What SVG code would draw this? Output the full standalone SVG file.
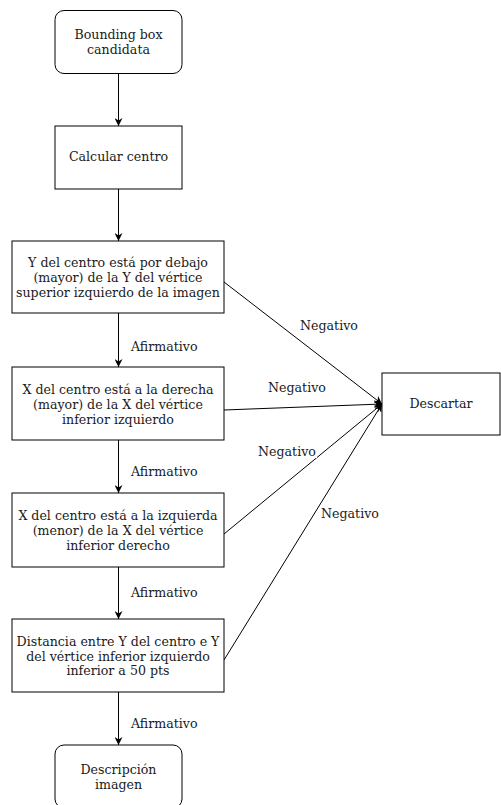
<svg xmlns="http://www.w3.org/2000/svg" width="501" height="805" viewBox="0 0 501 805">
<style>
.n{fill:#fff;stroke:#000;stroke-width:1}
.t{font-family:"DejaVu Serif",serif;font-size:12.6px;fill:#1a1a1a;text-anchor:middle}
.l{font-family:"DejaVu Serif",serif;font-size:12.6px;fill:#1a1a1a}
.c{fill:none;stroke:#000;stroke-width:1}
</style>
<defs>
<marker id="a" viewBox="0 0 10 10" refX="10" refY="5" markerWidth="8" markerHeight="8" markerUnits="userSpaceOnUse" orient="auto">
<path d="M0,0 L10,5 L0,10 L3,5 Z" fill="#000"/>
</marker>
</defs>
<rect width="501" height="805" fill="#fff"/>
<g id="connectors">
<line class="c" x1="118.5" y1="73" x2="118.5" y2="126" marker-end="url(#a)"/>
<line class="c" x1="118.5" y1="189" x2="118.5" y2="241" marker-end="url(#a)"/>
<line class="c" x1="118.5" y1="313" x2="118.5" y2="367" marker-end="url(#a)"/>
<line class="c" x1="118.5" y1="440" x2="118.5" y2="493" marker-end="url(#a)"/>
<line class="c" x1="118.5" y1="567" x2="118.5" y2="619" marker-end="url(#a)"/>
<line class="c" x1="118.5" y1="692" x2="118.5" y2="745" marker-end="url(#a)"/>
<line class="c" x1="224" y1="282" x2="382" y2="404" marker-end="url(#a)"/>
<line class="c" x1="224" y1="410" x2="382" y2="404" marker-end="url(#a)"/>
<line class="c" x1="224" y1="534" x2="382" y2="404" marker-end="url(#a)"/>
<line class="c" x1="224" y1="660" x2="382" y2="404" marker-end="url(#a)"/>
<text class="l" x="131" y="351">Afirmativo</text>
<text class="l" x="131" y="476">Afirmativo</text>
<text class="l" x="131" y="597">Afirmativo</text>
<text class="l" x="131" y="728">Afirmativo</text>
<text class="t" x="329" y="330">Negativo</text>
<text class="t" x="297" y="392">Negativo</text>
<rect x="256" y="444" width="61" height="14" fill="#fff"/>
<text class="t" x="287" y="456">Negativo</text>
<text class="t" x="350" y="518">Negativo</text>
</g>
<g id="n1"><rect class="n" x="55" y="10.5" width="127" height="63" rx="9"/>
<text class="t" x="118.5" y="38.5">Bounding box</text><text class="t" x="118.5" y="53.5">candidata</text></g>
<g id="n2"><rect class="n" x="55" y="126" width="127" height="63"/>
<text class="t" x="118.5" y="161">Calcular centro</text></g>
<g id="n3"><rect class="n" x="12" y="241" width="212" height="72"/>
<text class="t" x="118" y="267">Y del centro está por debajo</text>
<text class="t" x="118" y="282">(mayor) de la Y del vértice</text>
<text class="t" x="118" y="297">superior izquierdo de la imagen</text></g>
<g id="n4"><rect class="n" x="12" y="367" width="212" height="73"/>
<text class="t" x="118" y="394">X del centro está a la derecha</text>
<text class="t" x="118" y="409">(mayor) de la X del vértice</text>
<text class="t" x="118" y="424">inferior izquierdo</text></g>
<g id="n5"><rect class="n" x="12" y="493" width="212" height="74"/>
<text class="t" x="118" y="520">X del centro está a la izquierda</text>
<text class="t" x="118" y="535">(menor) de la X del vértice</text>
<text class="t" x="118" y="550">inferior derecho</text></g>
<g id="n6"><rect class="n" x="12" y="619" width="212" height="73"/>
<text class="t" x="118" y="646">Distancia entre Y del centro e Y</text>
<text class="t" x="118" y="661">del vértice inferior izquierdo</text>
<text class="t" x="118" y="675">inferior a 50 pts</text></g>
<g id="n7"><rect class="n" x="55" y="745" width="127" height="63" rx="9"/>
<text class="t" x="118.5" y="774">Descripción</text><text class="t" x="118.5" y="789">imagen</text></g>
<g id="descartar"><rect class="n" x="382" y="373" width="118" height="62"/>
<text class="t" x="441" y="408">Descartar</text></g>
</svg>
